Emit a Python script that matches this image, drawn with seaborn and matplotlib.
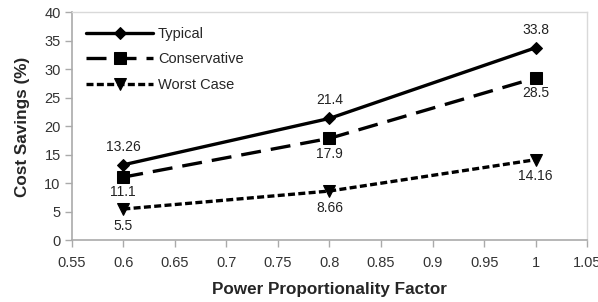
import matplotlib
matplotlib.use('Agg')
import matplotlib.pyplot as plt
import seaborn as sns
import pandas as pd

# data
factor = [0.6, 0.8, 1.0]
typical = [13.26, 21.4, 33.8]
conservative = [11.1, 17.9, 28.5]
worst = [5.5, 8.66, 14.16]
series_names = ['Typical', 'Conservative', 'Worst Case']

df = pd.DataFrame({
    'factor': factor * 3,
    'savings': typical + conservative + worst,
    'series': [s for s in series_names for _ in factor],
})

sns.set_style('white')
plt.rcParams['font.family'] = ['Liberation Sans', 'DejaVu Sans']

fig, ax = plt.subplots(figsize=(5.98, 3.02), dpi=100)
fig.subplots_adjust(left=0.12, right=0.982, top=0.959, bottom=0.204)

styles = {
    'Typical': dict(ls='-', marker='D', ms=6),
    'Conservative': dict(ls=(0, (6, 3)), marker='s', ms=8),
    'Worst Case': dict(ls=(0, (2.1, 1.0)), marker='v', ms=8),
}
for name in series_names:
    sub = df[df['series'] == name]
    st = styles[name]
    sns.lineplot(data=sub, x='factor', y='savings', ax=ax, color='black',
                 lw=2.4, linestyle=st['ls'], marker=st['marker'],
                 markersize=st['ms'], markeredgecolor='black', label=name)

# value labels
for x, y in zip(factor, typical):
    ax.annotate(f'{y:g}', (x, y), xytext=(0, 8), textcoords='offset points',
                ha='center', va='bottom', fontsize=10, color='#222222')
for x, y in zip(factor, conservative):
    ax.annotate(f'{y:g}', (x, y), xytext=(0, -6), textcoords='offset points',
                ha='center', va='top', fontsize=10, color='#222222')
for x, y in zip(factor, worst):
    ax.annotate(f'{y:g}', (x, y), xytext=(0, -7), textcoords='offset points',
                ha='center', va='top', fontsize=10, color='#222222')

ax.set_xlim(0.55, 1.05)
ax.set_ylim(0, 40)
ax.set_xticks([0.55, 0.6, 0.65, 0.7, 0.75, 0.8, 0.85, 0.9, 0.95, 1.0, 1.05])
ax.set_xticklabels(['0.55', '0.6', '0.65', '0.7', '0.75', '0.8', '0.85',
                    '0.9', '0.95', '1', '1.05'])
ax.set_yticks(range(0, 41, 5))
ax.tick_params(axis='both', labelsize=10.5, labelcolor='#333333', length=5,
               width=1, direction='out', bottom=True, left=True,
               color='#aaaaaa')
ax.tick_params(axis='x', pad=6)
ax.tick_params(axis='y', pad=3)

for side in ['left', 'bottom']:
    ax.spines[side].set_color('#aaaaaa')
    ax.spines[side].set_linewidth(1.2)
for side in ['top', 'right']:
    ax.spines[side].set_color('#d9d9d9')
    ax.spines[side].set_linewidth(1.0)

ax.set_xlabel('Power Proportionality Factor', fontsize=12.3,
              fontweight='bold', labelpad=9)
ax.set_ylabel('Cost Savings (%)', fontsize=12.3, fontweight='bold',
              labelpad=10)

ax.legend(loc='upper left', frameon=False, fontsize=10.5, handlelength=4.6,
          handletextpad=0.3, labelspacing=0.78, borderaxespad=0.6,
          borderpad=0.4)

fig.savefig('out.png', dpi=100)
